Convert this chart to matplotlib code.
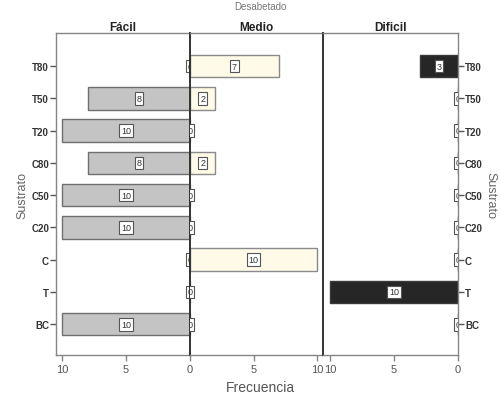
import numpy as np
import matplotlib.pyplot as plt

plt.rcParams['font.family'] = ['Liberation Sans', 'DejaVu Sans']

# Frequency of each substrate per difficulty level
sustratos = ['T80', 'T50', 'T20', 'C80', 'C50', 'C20', 'C', 'T', 'BC']
facil = [0, 8, 10, 8, 10, 10, 0, 0, 10]
medio = [7, 2, 0, 2, 0, 0, 10, 0, 0]
dificil = [3, 0, 0, 0, 0, 0, 0, 10, 0]

paneles = ['Fácil', 'Medio', 'Dificil']
colores = ['#c4c4c4', '#fffbe8', '#262626']
bordes = ['#6f6f6f', '#8a8a8a', '#3a3a3a']

fig = plt.figure(figsize=(5.01, 4.02), dpi=100)
bottom, height = 0.114, 0.801
ax1 = fig.add_axes([0.1118, bottom, 0.2675, height])
ax2 = fig.add_axes([0.3792, bottom, 0.2655, height])
ax3 = fig.add_axes([0.6447, bottom, 0.2695, height])
axes = [ax1, ax2, ax3]
limites = [(10.47, 0), (0, 10.47), (10.55, 0)]

y = np.arange(len(sustratos))
frame = '#858585'

for ax, vals, nombre, col, borde, lim in zip(axes, [facil, medio, dificil],
                                            paneles, colores, bordes, limites):
    ax.barh(y, vals, height=0.7, color=col, edgecolor=borde, linewidth=1.0)
    ax.set_xlim(*lim)
    ax.set_ylim(8.96, -1.02)
    ax.set_title(nombre, fontsize=8.5, fontweight='bold', pad=2,
                 color='#222222')
    for yi, v in zip(y, vals):
        ax.text(v / 2, yi, str(v), ha='center', va='center', fontsize=6.5,
                color='#333333', clip_on=True,
                bbox=dict(boxstyle='square,pad=0.2', fc='white',
                          ec='#555555', lw=0.8))
    for s in ax.spines.values():
        s.set_color(frame)
        s.set_linewidth(1.0)
    ax.tick_params(axis='x', length=4, width=1, color=frame, labelsize=8,
                   labelcolor='#555555', pad=2)
    ax.tick_params(axis='y', length=4, width=1, color='#555555',
                   labelsize=7, pad=1)
    ax.set_yticks(y)

ax1.set_xticks([10, 5, 0])
ax2.set_xticks([5, 10])
ax3.set_xticks([10, 5, 0])

ax1.set_yticklabels(sustratos, fontweight='bold', color='#333333')
ax1.spines['right'].set_visible(False)
ax2.tick_params(axis='y', left=False, labelleft=False)
ax2.spines['left'].set_color('#333333')
ax2.spines['left'].set_linewidth(1.4)
ax2.spines['right'].set_visible(False)
ax3.spines['left'].set_color('#333333')
ax3.spines['left'].set_linewidth(1.4)
ax3.yaxis.tick_right()
ax3.set_yticklabels(sustratos, fontweight='bold', color='#333333')

ax1.set_ylabel('Sustrato', fontsize=9, color='#666666', labelpad=2)
ax3.yaxis.set_label_position('right')
ax3.set_ylabel('Sustrato', fontsize=9, color='#666666', rotation=270,
               labelpad=10)

fig.text(0.52, 0.035, 'Frecuencia', ha='center', va='center', fontsize=10,
         color='#555555')
fig.text(0.52, 0.982, 'Desabetado', ha='center', va='center', fontsize=7,
         color='#777777')

fig.savefig('out.png', dpi=100)
